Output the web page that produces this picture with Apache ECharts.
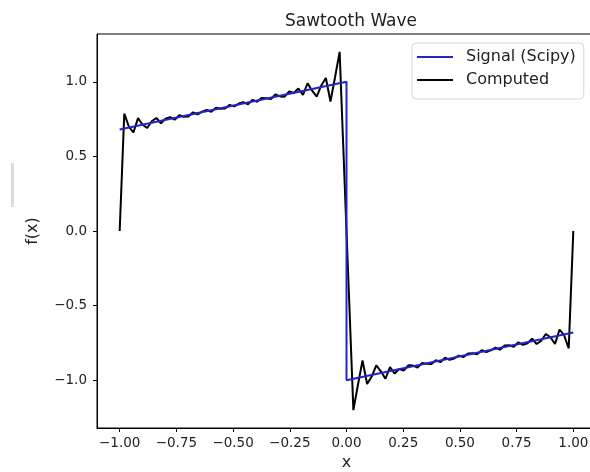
<!DOCTYPE html>
<html>
  <head>
    <meta charset="utf-8">
    <script src="https://cdn.jsdelivr.net/npm/echarts@6/dist/echarts.min.js"></script>
    <style>
      html, body { margin: 0; padding: 0; background: #fff; }
      #chart { width: 590px; height: 472px; }
    </style>
  </head>
  <body>
    <div id="chart"></div>
    <script>
      // Signal from scipy: straight pieces, jump at x = 0
      const signalX = [-1.0, 0.0, 0.0, 1.0];
      const signalY = [0.68, 1.0, -1.0, -0.68];

      // Computed (Fourier) curve, 100 samples
      const computedX = [
        -1.0000, -0.9798, -0.9596, -0.9394, -0.9192, -0.8990, -0.8788, -0.8586, -0.8384, -0.8182,
        -0.7980, -0.7778, -0.7576, -0.7374, -0.7172, -0.6970, -0.6768, -0.6566, -0.6364, -0.6162,
        -0.5960, -0.5758, -0.5556, -0.5354, -0.5152, -0.4949, -0.4747, -0.4545, -0.4343, -0.4141,
        -0.3939, -0.3737, -0.3535, -0.3333, -0.3131, -0.2929, -0.2727, -0.2525, -0.2323, -0.2121,
        -0.1919, -0.1717, -0.1515, -0.1313, -0.1111, -0.0909, -0.0707, -0.0505, -0.0303, -0.0101,
        0.0101, 0.0303, 0.0505, 0.0707, 0.0909, 0.1111, 0.1313, 0.1515, 0.1717, 0.1919,
        0.2121, 0.2323, 0.2525, 0.2727, 0.2929, 0.3131, 0.3333, 0.3535, 0.3737, 0.3939,
        0.4141, 0.4343, 0.4545, 0.4747, 0.4949, 0.5152, 0.5354, 0.5556, 0.5758, 0.5960,
        0.6162, 0.6364, 0.6566, 0.6768, 0.6970, 0.7172, 0.7374, 0.7576, 0.7778, 0.7980,
        0.8182, 0.8384, 0.8586, 0.8788, 0.8990, 0.9192, 0.9394, 0.9596, 0.9798, 1.0000
      ];
      const computedY = [
        0.000, 0.786, 0.700, 0.660, 0.756, 0.712, 0.690, 0.735, 0.757, 0.722,
        0.752, 0.763, 0.746, 0.776, 0.766, 0.767, 0.795, 0.782, 0.800, 0.811,
        0.799, 0.826, 0.819, 0.821, 0.845, 0.835, 0.854, 0.863, 0.849, 0.879,
        0.866, 0.892, 0.889, 0.884, 0.915, 0.902, 0.900, 0.935, 0.925, 0.955,
        0.912, 0.990, 0.940, 0.900, 0.975, 1.025, 0.868, 1.030, 1.200, 0.400,
        -0.400, -1.200, -1.030, -0.868, -1.025, -0.975, -0.900, -0.940, -0.990, -0.912,
        -0.955, -0.925, -0.935, -0.900, -0.902, -0.915, -0.884, -0.889, -0.892, -0.866,
        -0.879, -0.849, -0.863, -0.854, -0.835, -0.845, -0.821, -0.819, -0.826, -0.799,
        -0.811, -0.800, -0.782, -0.795, -0.767, -0.766, -0.776, -0.746, -0.763, -0.752,
        -0.722, -0.757, -0.735, -0.690, -0.712, -0.756, -0.660, -0.700, -0.786, 0.000
      ];

      // tick labels
      const xTicks = [-1.0, -0.75, -0.5, -0.25, 0.0, 0.25, 0.5, 0.75, 1.0];
      const yTicks = [-1.0, -0.5, 0.0, 0.5, 1.0];

      const font = 'DejaVu Sans';
      const minus = s => s.replace('-', '\u2212');

      const signalData = signalX.map((x, i) => [x, signalY[i]]);
      const computedData = computedX.map((x, i) => [x, computedY[i]]);

      var myChart = echarts.init(document.getElementById('chart'));

      var option = {
        animation: false,
        backgroundColor: '#fff',
        title: {
          text: 'Sawtooth Wave',
          left: 346,
          top: 8,
          textAlign: 'center',
          textStyle: { fontFamily: font, fontSize: 17, fontWeight: 'normal', color: '#222' }
        },
        legend: {
          orient: 'vertical',
          left: 412,
          top: 43,
          padding: [4, 8, 9, 5],
          itemGap: 3,
          itemWidth: 36,
          itemHeight: 2,
          icon: 'rect',
          backgroundColor: 'rgba(255,255,255,0.9)',
          borderColor: '#d6d6d6',
          borderWidth: 1,
          borderRadius: 4,
          textStyle: { fontFamily: font, fontSize: 16, color: '#222', lineHeight: 20, padding: [0, 0, 0, 8] },
          data: ['Signal (Scipy)', 'Computed']
        },
        grid: {
          left: 97,
          top: 34,
          width: 499,
          height: 394,
          containLabel: false,
          outerBoundsMode: 'none',
          show: true,
          borderColor: '#000',
          borderWidth: 1
        },
        xAxis: {
          type: 'value',
          min: -1.1,
          max: 1.1,
          name: 'x',
          nameLocation: 'middle',
          nameGap: 27,
          nameTextStyle: { fontFamily: font, fontSize: 16, color: '#222' },
          splitLine: { show: false },
          axisLine: { show: true, onZero: false, lineStyle: { color: '#000', width: 1 } },
          axisTick: { show: true, length: 4, customValues: xTicks, lineStyle: { color: '#000' } },
          axisLabel: {
            customValues: xTicks,
            margin: 8,
            fontFamily: font,
            fontSize: 13.5,
            color: '#222',
            formatter: v => minus(v.toFixed(2))
          }
        },
        yAxis: {
          type: 'value',
          min: -1.32,
          max: 1.32,
          name: 'f(x)',
          nameLocation: 'middle',
          nameGap: 56,
          nameTextStyle: { fontFamily: font, fontSize: 16, color: '#222' },
          splitLine: { show: false },
          axisLine: { show: true, onZero: false, lineStyle: { color: '#000', width: 1 } },
          axisTick: { show: true, length: 4, customValues: yTicks, lineStyle: { color: '#000' } },
          axisLabel: {
            customValues: yTicks,
            margin: 10,
            fontFamily: font,
            fontSize: 13.5,
            color: '#222',
            formatter: v => minus(v.toFixed(1))
          }
        },
        graphic: [
          {
            type: 'rect',
            shape: { x: 11, y: 163, width: 3, height: 44 },
            style: { fill: '#dcdcdc' }
          }
        ],
        series: [
          {
            name: 'Signal (Scipy)',
            type: 'line',
            data: signalData,
            showSymbol: false,
            z: 3,
            color: '#2424c8',
            lineStyle: { color: '#2424c8', width: 2 }
          },
          {
            name: 'Computed',
            type: 'line',
            data: computedData,
            showSymbol: false,
            z: 2,
            color: '#000',
            lineStyle: { color: '#000', width: 2 }
          }
        ]
      };
      myChart.setOption(option);
    </script>
  </body>
</html>
